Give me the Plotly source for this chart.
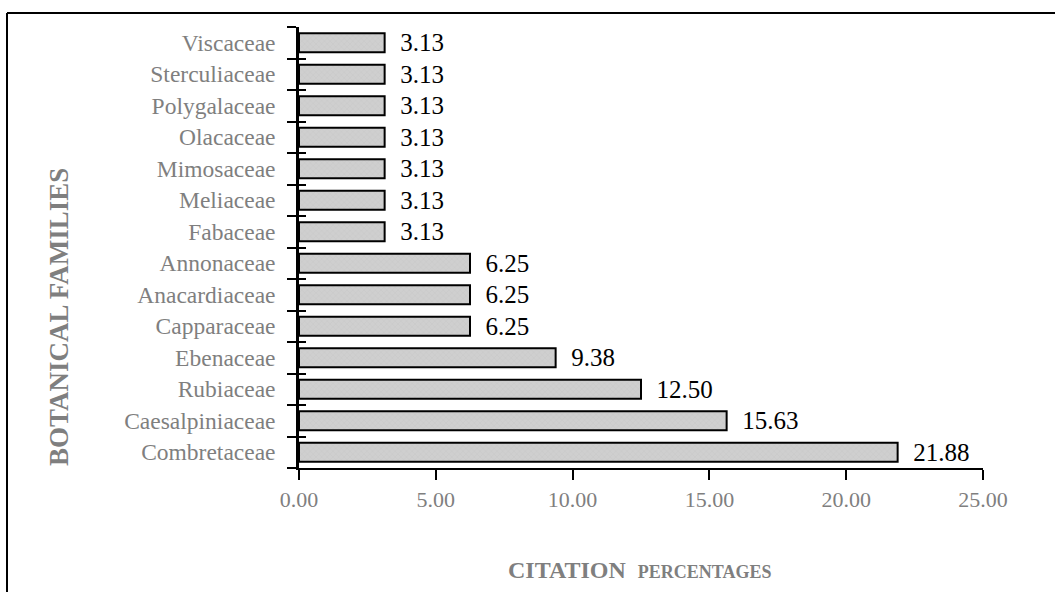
import plotly.graph_objects as go

families = ["Combretaceae", "Caesalpiniaceae", "Rubiaceae", "Ebenaceae", "Capparaceae",
            "Anacardiaceae", "Annonaceae", "Fabaceae", "Meliaceae", "Mimosaceae",
            "Olacaceae", "Polygalaceae", "Sterculiaceae", "Viscaceae"]
percentages = [21.88, 15.63, 12.50, 9.38, 6.25, 6.25, 6.25, 3.13, 3.13, 3.13, 3.13, 3.13, 3.13, 3.13]
x_ticks = [0, 5, 10, 15, 20, 25]
x_tick_labels = ["0.00", "5.00", "10.00", "15.00", "20.00", "25.00"]

W, H = 1055, 592
L, R, T, B = 299, 72, 27, 124
pw, ph = W - L - R, H - T - B

def px(xp):
    return (xp - L) / pw

def py(yp):
    return (H - B - yp) / ph

serif = "Liberation Serif, Times New Roman, serif"
gray = "#7f7f7f"

fig = go.Figure()
fig.add_trace(go.Bar(
    y=families, x=percentages, orientation="h",
    marker=dict(color="#cacaca", line=dict(color="black", width=2),
                pattern=dict(shape="x", size=4, solidity=0.15, fgcolor="#b5b5b5", bgcolor="#cfcfcf")),
    text=[f"{v:.2f}" for v in percentages],
    texttemplate="\u00a0\u00a0%{text}",
    textposition="outside", cliponaxis=False, constraintext="none",
    textfont=dict(family=serif, size=25, color="black"),
    width=0.6, hoverinfo="skip", showlegend=False,
))
# invisible trace to give the overlaid axis its categories
fig.add_trace(go.Scatter(y=families, x=[0]*len(families), yaxis="y2", mode="markers",
                         marker=dict(opacity=0), showlegend=False, hoverinfo="skip"))

fig.update_layout(
    width=W, height=H,
    margin=dict(l=L, r=R, t=T, b=B),
    paper_bgcolor="white", plot_bgcolor="white",
    xaxis=dict(range=[0, 25], tickvals=x_ticks, ticktext=x_tick_labels,
               showgrid=False, zeroline=False, showline=True, linecolor="black", linewidth=1.5,
               ticks="outside", ticklen=10, tickwidth=1.5, tickcolor="black",
               ticklabelstandoff=1,
               tickfont=dict(family=serif, size=22, color=gray)),
    yaxis=dict(type="category", categoryorder="array", categoryarray=families,
               range=[-0.5, 13.5], showgrid=False, zeroline=False,
               showline=True, linecolor="black", linewidth=2.5,
               ticks="outside", tickson="boundaries", ticklen=9, tickwidth=2, tickcolor="black",
               ticklabelstandoff=16,
               tickfont=dict(family=serif, size=23.5, color=gray)),
    yaxis2=dict(type="category", categoryorder="array", categoryarray=families,
                range=[-0.5, 13.5], overlaying="y", side="left", showgrid=False, zeroline=False,
                showline=False, ticks="inside", tickson="boundaries", ticklen=7, tickwidth=2,
                tickcolor="black", showticklabels=False),
    annotations=[
        dict(text="<b>BOTANICAL FAMILIES</b>", xref="paper", yref="paper", x=px(59), y=py(317),
             textangle=-90, showarrow=False, xanchor="center", yanchor="middle",
             font=dict(family=serif, size=27, color=gray)),
        dict(text="<b>CITATION\u00a0\u00a0<span style='font-size:18px'>PERCENTAGES</span></b>",
             xref="paper", yref="paper", x=px(640), y=py(570), showarrow=False,
             xanchor="center", yanchor="middle",
             font=dict(family=serif, size=24, color=gray)),
    ],
    shapes=[
        dict(type="line", xref="paper", yref="paper", x0=px(7), x1=px(1060), y0=py(13), y1=py(13),
             line=dict(color="black", width=2)),
        dict(type="line", xref="paper", yref="paper", x0=px(7), x1=px(7), y0=py(13), y1=py(600),
             line=dict(color="black", width=2)),
    ],
)

fig.write_html("out.html", config={"displayModeBar": False},
               post_script="document.body.style.margin='0';")
